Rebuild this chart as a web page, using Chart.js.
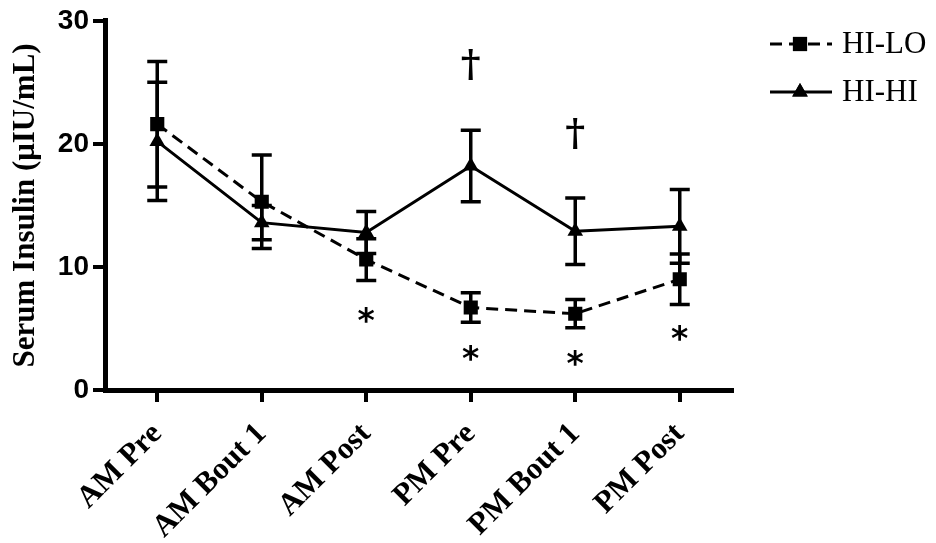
<!DOCTYPE html>
<html>
<head>
<meta charset="utf-8">
<script src="https://cdn.jsdelivr.net/npm/chart.js@4"></script>
<style>
  body { margin: 0; background: #fff; }
</style>
</head>
<body>
<canvas id="stage" width="936" height="543"></canvas>
<script>
// values
const categories = ['AM Pre', 'AM Bout 1', 'AM Post', 'PM Pre', 'PM Bout 1', 'PM Post'];
const hiLo = [21.6, 15.3, 10.6, 6.7, 6.2, 9.0];
const hiLoErr = [5.1, 3.8, 1.7, 1.2, 1.15, 2.05];
const hiHi = [20.2, 13.6, 12.8, 18.2, 12.9, 13.3];
const hiHiErr = [4.8, 1.4, 1.7, 2.9, 2.7, 3.0];
const starY = [null, null, 6.2, 3.1, 2.7, 4.7];     // * vs AM Pre
const daggerY = [null, null, null, 26.5, 20.9, null]; // † between groups
const yTicks = [0, 10, 20, 30];

const serif = "'Liberation Serif', 'Times New Roman', serif";
const sans = "'Liberation Sans', Arial, sans-serif";

// error bars drawn under the markers
const errorBars = {
  id: 'errorBars',
  beforeDatasetsDraw(chart) {
    const ctx = chart.ctx;
    const ys = chart.scales.y;
    const errs = [hiLoErr, hiHiErr];
    ctx.save();
    ctx.strokeStyle = '#000';
    ctx.lineWidth = 3.5;
    chart.data.datasets.forEach((ds, i) => {
      const meta = chart.getDatasetMeta(i);
      meta.data.forEach((pt, j) => {
        const v = ds.data[j], e = errs[i][j];
        const top = ys.getPixelForValue(v + e);
        const bot = ys.getPixelForValue(v - e);
        ctx.beginPath();
        ctx.moveTo(pt.x, top); ctx.lineTo(pt.x, bot);
        ctx.moveTo(pt.x - 10, top); ctx.lineTo(pt.x + 10, top);
        ctx.moveTo(pt.x - 10, bot); ctx.lineTo(pt.x + 10, bot);
        ctx.stroke();
      });
    });
    ctx.restore();
  }
};

// significance marks and the legend
const marks = {
  id: 'marks',
  afterDraw(chart) {
    const ctx = chart.ctx;
    const xs = chart.scales.x, ys = chart.scales.y;
    ctx.save();
    ctx.fillStyle = '#000';
    ctx.textAlign = 'center';
    ctx.textBaseline = 'alphabetic';
    ctx.font = "bold 33px 'DejaVu Sans', sans-serif";
    starY.forEach((v, i) => {
      if (v == null) return;
      ctx.fillText('*', xs.getPixelForValue(i), ys.getPixelForValue(v) + 18);
    });
    ctx.font = "bold 38px 'DejaVu Serif', serif";
    daggerY.forEach((v, i) => {
      if (v == null) return;
      ctx.fillText('\u2020', xs.getPixelForValue(i), ys.getPixelForValue(v) + 12);
    });

    // legend
    const rows = [{y: 44, ds: 0}, {y: 92, ds: 1}];
    rows.forEach(r => {
      const ds = chart.data.datasets[r.ds];
      ctx.strokeStyle = '#000';
      ctx.lineWidth = 3;
      ctx.setLineDash(ds.borderDash || []);
      ctx.beginPath();
      ctx.moveTo(770, r.y); ctx.lineTo(832, r.y);
      ctx.stroke();
      ctx.setLineDash([]);
      Chart.helpers.drawPoint(ctx, {pointStyle: ds.pointStyle, radius: ds.pointRadius, borderWidth: 0}, 800, r.y);
      ctx.fill();
      ctx.font = '31px ' + serif;
      ctx.textAlign = 'left';
      ctx.textBaseline = 'middle';
      ctx.fillText(ds.label, 842, r.y + 1);
    });
    ctx.restore();
  }
};

new Chart(document.getElementById('stage'), {
  type: 'line',
  data: {
    labels: categories,
    datasets: [
      {
        label: 'HI-LO',
        data: hiLo,
        borderColor: '#000',
        backgroundColor: '#000',
        borderWidth: 3,
        borderDash: [12, 7],
        pointStyle: 'rect',
        pointRadius: 10,
        pointBorderWidth: 0,
        tension: 0
      },
      {
        label: 'HI-HI',
        data: hiHi,
        borderColor: '#000',
        backgroundColor: '#000',
        borderWidth: 3,
        pointStyle: 'triangle',
        pointRadius: 9,
        pointBorderWidth: 0,
        tension: 0
      }
    ]
  },
  options: {
    responsive: false,
    animation: false,
    layout: { padding: { top: 20, right: 204, left: 0, bottom: 0 } },
    plugins: {
      legend: { display: false },
      tooltip: { enabled: false }
    },
    scales: {
      x: {
        type: 'category',
        offset: true,
        afterFit(scale) { scale.height = 153; },
        border: { display: true, color: '#000', width: 5 },
        grid: { offset: false, drawOnChartArea: false, drawTicks: true, tickLength: 12, color: '#000', lineWidth: 4 },
        ticks: {
          autoSkip: false,
          maxRotation: 45,
          minRotation: 45,
          padding: 14,
          color: '#000',
          font: { family: serif, size: 31, weight: 'bold' }
        }
      },
      y: {
        min: 0,
        max: 30,
        afterFit(scale) { scale.width = 105; },
        afterBuildTicks(scale) { scale.ticks = yTicks.map(v => ({value: v})); },
        border: { display: true, color: '#000', width: 5 },
        grid: { drawOnChartArea: false, drawTicks: true, tickLength: 12, color: '#000', lineWidth: 4 },
        ticks: {
          padding: 4,
          color: '#000',
          font: { family: sans, size: 28, weight: 'bold' }
        },
        title: {
          display: true,
          text: 'Serum Insulin (\u03bcIU/mL)',
          color: '#000',
          padding: 7,
          font: { family: serif, size: 31, weight: 'bold' }
        }
      }
    }
  },
  plugins: [errorBars, marks]
});
</script>
</body>
</html>
